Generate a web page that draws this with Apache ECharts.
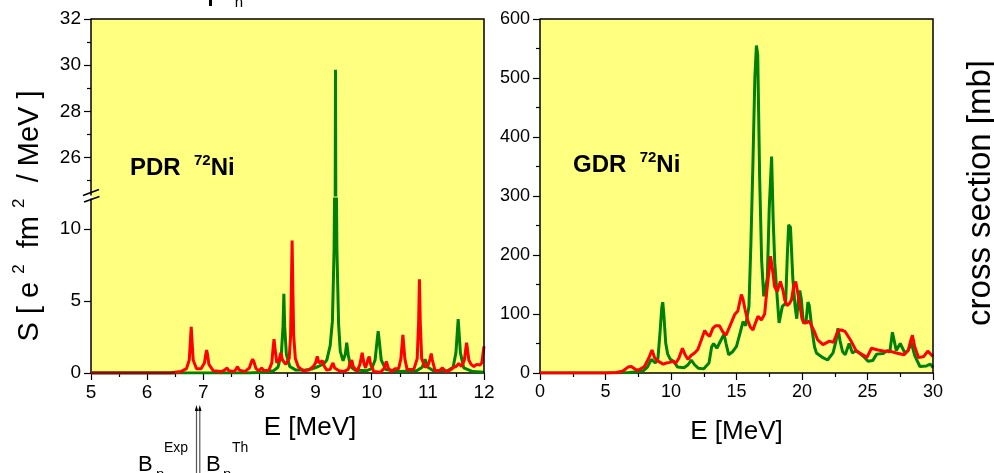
<!DOCTYPE html>
<html>
<head>
<meta charset="utf-8">
<script src="https://cdn.jsdelivr.net/npm/echarts@6/dist/echarts.min.js"></script>
<style>
  html, body { margin: 0; padding: 0; background: #fff; }
  #chart { width: 994px; height: 473px; }
</style>
</head>
<body>
<div id="chart"></div>
<script>
// PDR 72Ni: [E (MeV), S (e^2 fm^2 / MeV)]
const pdrGreen = [
  [5,0],[7.8,0],[8.1,0.05],[8.25,0.15],[8.33,0.4],[8.39,1.3],[8.42,3.2],[8.435,5.5],[8.45,3.2],[8.48,1.3],
  [8.54,0.45],[8.65,0.2],[8.8,0.2],[8.95,0.3],[9.05,0.45],[9.15,0.65],[9.2,0.9],[9.26,1.9],[9.3,3.6],[9.33,8.6],
  [9.338,12.5],[9.355,29.8],[9.372,12.5],[9.38,8.6],[9.41,3.4],[9.44,1.5],[9.49,0.85],[9.53,1.3],[9.555,2.1],[9.58,1.3],
  [9.62,0.45],[9.7,0.2],[9.9,0.15],[10.0,0.3],[10.06,0.9],[10.1,2.4],[10.115,2.9],[10.13,2.4],[10.17,0.9],[10.25,0.25],
  [10.5,0.1],[10.8,0.15],[10.9,0.4],[10.95,0.95],[11.0,0.4],[11.1,0.15],[11.35,0.15],[11.45,0.4],[11.5,1.4],[11.54,3.75],
  [11.58,1.4],[11.64,0.35],[11.8,0.1],[12,0.05]
];
const pdrRed = [
  [5,0],[6.4,0],[6.6,0.1],[6.7,0.3],[6.75,0.9],[6.77,2.2],[6.785,3.2],[6.8,2.2],[6.82,0.9],[6.88,0.3],
  [6.96,0.3],[7.02,0.7],[7.045,1.3],[7.06,1.6],[7.075,1.3],[7.1,0.6],[7.18,0.15],[7.32,0.1],[7.38,0.2],[7.42,0.35],
  [7.46,0.15],[7.55,0.1],[7.58,0.25],[7.61,0.45],[7.64,0.2],[7.74,0.1],[7.82,0.35],[7.86,0.8],[7.88,0.95],[7.9,0.8],
  [7.94,0.3],[7.99,0.15],[8.04,0.35],[8.08,0.15],[8.17,0.2],[8.22,0.7],[8.245,1.8],[8.26,2.35],[8.275,1.8],[8.31,0.7],
  [8.35,0.9],[8.38,1.4],[8.41,0.9],[8.47,0.6],[8.53,1.0],[8.555,2.6],[8.57,6.2],[8.582,9.2],[8.594,6.2],[8.61,2.6],
  [8.64,1.0],[8.69,0.45],[8.72,0.45],[8.78,0.15],[8.88,0.2],[8.96,0.45],[9.0,0.7],[9.03,1.15],[9.06,0.7],[9.09,0.6],
  [9.12,0.85],[9.15,0.5],[9.2,0.2],[9.26,0.25],[9.29,0.55],[9.31,0.7],[9.34,0.35],[9.42,0.15],[9.5,0.1],[9.58,0.25],
  [9.62,0.7],[9.645,0.9],[9.67,0.45],[9.74,0.1],[9.79,0.6],[9.83,1.4],[9.86,0.7],[9.89,0.35],[9.93,0.9],[9.955,1.15],
  [9.98,0.6],[10.04,0.1],[10.15,0.05],[10.22,0.3],[10.26,0.8],[10.3,0.3],[10.36,0.1],[10.41,0.3],[10.44,0.4],[10.48,0.3],
  [10.52,1.0],[10.555,2.65],[10.59,1.0],[10.63,0.25],[10.75,0.25],[10.81,1.0],[10.835,3.5],[10.85,6.5],[10.865,3.5],[10.89,1.0],
  [10.95,0.4],[11.0,0.5],[11.04,1.0],[11.06,1.35],[11.08,0.9],[11.13,0.15],[11.2,0.15],[11.26,0.35],[11.32,0.1],[11.4,0.2],
  [11.46,0.4],[11.5,0.45],[11.55,0.65],[11.6,0.45],[11.65,0.9],[11.69,2.1],[11.73,0.9],[11.77,0.6],[11.82,0.45],[11.87,0.6],
  [11.9,0.65],[11.93,0.55],[11.96,0.7],[12,1.85]
];

// GDR 72Ni: [E (MeV), cross section (mb)]
const gdrGreen = [
  [0,0],[5,0],[6,0.5],[6.8,1],[7.5,2],[7.9,4],[8.2,10],[8.5,23],[8.8,17],[9.0,24],
  [9.15,65],[9.3,112],[9.37,120],[9.45,100],[9.6,50],[9.75,32],[9.95,23],[10.2,20],[10.5,10],[11.0,9],
  [11.3,14],[11.55,22],[11.8,14],[12.1,8],[12.5,7],[12.9,17],[13.1,44],[13.25,50],[13.5,42],[13.8,55],
  [14.05,66],[14.2,50],[14.4,31],[14.7,36],[15.0,45],[15.3,70],[15.5,87],[15.7,80],[15.95,113],[16.1,220],
  [16.26,361],[16.4,500],[16.52,555],[16.62,540],[16.77,328],[16.92,190],[17.08,130],[17.2,132],[17.35,160],[17.5,280],
  [17.68,367],[17.8,260],[17.92,187],[18.1,130],[18.25,85],[18.5,113],[18.75,118],[18.88,200],[18.98,251],[19.12,247],
  [19.3,160],[19.47,113],[19.6,92],[19.72,125],[19.83,140],[19.95,125],[20.1,85],[20.3,85],[20.45,120],[20.55,115],
  [20.75,76],[20.95,45],[21.1,34],[21.6,26],[21.95,22],[22.37,34],[22.6,55],[22.75,76],[22.9,55],[23.1,36],
  [23.3,31],[23.6,50],[23.85,34],[24.15,38],[24.7,28],[25.04,20],[25.4,21],[25.7,32],[26.2,33],[26.5,38],
  [26.7,35],[26.9,69],[27.2,38],[27.5,50],[27.85,34],[28.1,38],[28.35,51],[28.6,30],[29.0,11],[29.5,12],
  [29.8,15],[30,9]
];
const gdrRed = [
  [0,0],[5,0],[5.8,1],[6.3,3],[6.72,10],[6.97,11],[7.35,5],[7.6,6],[7.97,11],[8.3,25],
  [8.55,39],[8.75,26],[8.95,21],[9.4,15],[9.65,17],[9.9,18],[10.15,20],[10.35,16],[10.6,25],[10.87,42],
  [11.1,30],[11.3,23],[11.55,30],[11.8,34],[12.05,40],[12.3,55],[12.57,72],[12.75,66],[12.95,62],[13.2,76],
  [13.4,80],[13.7,80],[13.95,70],[14.2,64],[14.5,80],[14.86,99],[15.1,105],[15.37,133],[15.5,125],[15.65,108],
  [15.85,90],[16.05,78],[16.26,73],[16.45,85],[16.64,96],[16.9,90],[17.15,100],[17.3,136],[17.6,198],[17.78,170],
  [17.9,147],[18.1,138],[18.35,155],[18.55,140],[18.68,124],[18.86,114],[19.05,118],[19.2,124],[19.35,145],[19.52,155],
  [19.68,135],[19.85,113],[20.0,92],[20.15,85],[20.35,85],[20.55,88],[20.7,90],[20.95,70],[21.2,56],[21.6,48],
  [22.1,54],[22.4,52],[22.75,72],[23.0,73],[23.3,70],[23.7,56],[24.15,37],[24.7,30],[24.95,26],[25.3,42],
  [25.8,39],[26.3,37],[26.7,37],[27.2,34],[27.8,31],[28.1,38],[28.3,55],[28.43,64],[28.6,45],[28.9,26],
  [29.3,28],[29.6,37],[30,28]
];

// tick values
const pdrUpperTicks = [26, 28, 30, 32];
const pdrUpperMinor = [25, 27, 29, 31];
const pdrLowerTicks = [0, 5, 10];

const FONT = '"Liberation Sans", Arial, sans-serif';
const YELLOW = '#ffff80';
const GREEN = '#008000';
const RED = '#ff0000';

const axisLine = { show: true, onZero: false, lineStyle: { color: '#000', width: 1.5 } };
const tick = { show: true, length: 7, lineStyle: { color: '#000', width: 1.2 } };
const minor = { show: true, splitNumber: 2, length: 4, lineStyle: { color: '#000', width: 1.2 } };
const label = { color: '#000', fontSize: 18, fontFamily: FONT };
const labelL = { color: '#000', fontSize: 19, fontFamily: FONT };

function line(data, color, xi, yi) {
  return {
    type: 'line', xAxisIndex: xi, yAxisIndex: yi, data: data,
    showSymbol: false, symbol: 'none', smooth: false,
    lineStyle: { color: color, width: 3 }, itemStyle: { color: color }
  };
}

const chart = echarts.init(document.getElementById('chart'));
chart.setOption({
  animation: false,
  textStyle: { fontFamily: FONT },
  grid: [
    { left: 91, top: 19, width: 393, height: 176, show: true, backgroundColor: YELLOW, borderWidth: 0 },
    { left: 91, top: 199, width: 393, height: 174, show: true, backgroundColor: YELLOW, borderWidth: 0 },
    { left: 540, top: 19, width: 393, height: 354, show: true, backgroundColor: YELLOW, borderWidth: 0 }
  ],
  xAxis: [
    { gridIndex: 0, type: 'value', min: 5, max: 12, show: false },
    {
      gridIndex: 1, type: 'value', min: 5, max: 12, interval: 1, z: 3,
      axisLine: axisLine, axisTick: tick, minorTick: minor,
      axisLabel: Object.assign({ margin: 10 }, labelL),
      splitLine: { show: false },
      name: 'E [MeV]', nameLocation: 'middle', nameGap: 42,
      nameTextStyle: { color: '#000', fontSize: 26, fontFamily: FONT, padding: [0, 0, 0, 45] }
    },
    {
      gridIndex: 2, type: 'value', min: 0, max: 30, interval: 5, z: 3,
      axisLine: axisLine, axisTick: tick, minorTick: minor,
      axisLabel: Object.assign({ margin: 10 }, label),
      splitLine: { show: false },
      name: 'E [MeV]', nameLocation: 'middle', nameGap: 46,
      nameTextStyle: { color: '#000', fontSize: 26, fontFamily: FONT }
    }
  ],
  yAxis: [
    {
      gridIndex: 0, type: 'value', min: 24.38, max: 32, position: 'left',
      axisLine: axisLine,
      axisTick: Object.assign({ customValues: pdrUpperTicks }, tick),
      axisLabel: Object.assign({ margin: 10, customValues: pdrUpperTicks }, labelL),
      splitLine: { show: false }
    },
    {
      gridIndex: 0, type: 'value', min: 24.38, max: 32, position: 'left',
      axisLine: { show: false },
      axisTick: { show: true, length: 4, customValues: pdrUpperMinor, lineStyle: { color: '#000', width: 1.2 } },
      axisLabel: { show: false },
      splitLine: { show: false }
    },
    {
      gridIndex: 1, type: 'value', min: 0, max: 12.08, position: 'left',
      axisLine: axisLine,
      axisTick: Object.assign({ customValues: pdrLowerTicks }, tick),
      axisLabel: Object.assign({ margin: 10, customValues: pdrLowerTicks }, labelL),
      splitLine: { show: false }
    },
    {
      gridIndex: 2, type: 'value', min: 0, max: 600, interval: 100, position: 'left',
      axisLine: axisLine, axisTick: tick, minorTick: minor,
      axisLabel: Object.assign({ margin: 10 }, label),
      splitLine: { show: false }
    }
  ],
  series: [
    line(pdrGreen, GREEN, 0, 0),
    line(pdrRed, RED, 0, 0),
    line(pdrGreen, GREEN, 1, 2),
    line(pdrRed, RED, 1, 2),
    line(gdrGreen, GREEN, 2, 3),
    line(gdrRed, RED, 2, 3)
  ],
  graphic: [
    // break gap in left panel
    { type: 'rect', z: 3, shape: { x: 92, y: 193.5, width: 391.5, height: 6 }, style: { fill: YELLOW } },
    { type: 'line', z: 6, shape: { x1: 83, y1: 195.5, x2: 99, y2: 189.5 }, style: { stroke: '#000', lineWidth: 1.5 } },
    { type: 'line', z: 6, shape: { x1: 84, y1: 202, x2: 99.5, y2: 196.5 }, style: { stroke: '#000', lineWidth: 1.5 } },
    // dark baseline where the curves sit on zero
    { type: 'line', z: 4, shape: { x1: 91, y1: 373, x2: 175, y2: 373 }, style: { stroke: '#7a1010', lineWidth: 2.5 } },
    // frames (top + right)
    { type: 'polyline', z: 5, shape: { points: [[91, 19], [484, 19], [484, 373]] }, style: { stroke: '#000', lineWidth: 1.5, fill: null } },
    { type: 'polyline', z: 5, shape: { points: [[540, 19], [933, 19], [933, 373]] }, style: { stroke: '#000', lineWidth: 1.5, fill: null } },
    // panel labels
    {
      type: 'text', z: 10, x: 130, y: 168,
      style: {
        text: '{b|PDR  }{s|72}{b|Ni}', verticalAlign: 'middle', fontFamily: FONT,
        rich: {
          b: { fontSize: 24, fontWeight: 'bold', fontFamily: FONT, fill: '#000', lineHeight: 30 },
          s: { fontSize: 15, fontWeight: 'bold', fontFamily: FONT, fill: '#000', verticalAlign: 'top', lineHeight: 16 }
        }
      }
    },
    {
      type: 'text', z: 10, x: 573, y: 165,
      style: {
        text: '{b|GDR  }{s|72}{b|Ni}', verticalAlign: 'middle', fontFamily: FONT,
        rich: {
          b: { fontSize: 24, fontWeight: 'bold', fontFamily: FONT, fill: '#000', lineHeight: 30 },
          s: { fontSize: 15, fontWeight: 'bold', fontFamily: FONT, fill: '#000', verticalAlign: 'top', lineHeight: 16 }
        }
      }
    },
    // axis titles
    {
      type: 'text', z: 10, x: 30, y: 216, rotation: Math.PI / 2,
      style: {
        text: '{n|S [ e }{s|2}{n|  fm }{s|2}{n|  / MeV ]}', align: 'center', verticalAlign: 'middle',
        rich: {
          n: { fontSize: 29, fontFamily: FONT, fill: '#000', lineHeight: 38 },
          s: { fontSize: 17, fontFamily: FONT, fill: '#000', verticalAlign: 'top', lineHeight: 18 }
        }
      }
    },
    {
      type: 'text', z: 10, x: 981, y: 193, rotation: Math.PI / 2,
      style: { text: 'cross section [mb]', fontSize: 33, fontFamily: FONT, fill: '#000', align: 'center', verticalAlign: 'middle' }
    },
    // neutron threshold markers
    { type: 'line', z: 10, shape: { x1: 196.5, y1: 408, x2: 196.5, y2: 473 }, style: { stroke: '#555', lineWidth: 1.2 } },
    { type: 'line', z: 10, shape: { x1: 199.8, y1: 408, x2: 199.8, y2: 473 }, style: { stroke: '#555', lineWidth: 1.2 } },
    { type: 'polygon', z: 10, shape: { points: [[194.8, 411], [196.5, 405], [198.2, 411]] }, style: { fill: '#000' } },
    { type: 'polygon', z: 10, shape: { points: [[198.1, 411], [199.8, 405], [201.5, 411]] }, style: { fill: '#000' } },
    { type: 'text', z: 10, x: 138, y: 465, style: { text: 'B', fontSize: 22, fontFamily: FONT, fill: '#000', verticalAlign: 'middle' } },
    { type: 'text', z: 10, x: 156, y: 475, style: { text: 'n', fontSize: 15, fontFamily: FONT, fill: '#000', verticalAlign: 'middle' } },
    { type: 'text', z: 10, x: 164, y: 448, style: { text: 'Exp', fontSize: 14, fontFamily: FONT, fill: '#000', verticalAlign: 'middle' } },
    { type: 'text', z: 10, x: 206, y: 465, style: { text: 'B', fontSize: 22, fontFamily: FONT, fill: '#000', verticalAlign: 'middle' } },
    { type: 'text', z: 10, x: 223, y: 475, style: { text: 'n', fontSize: 15, fontFamily: FONT, fill: '#000', verticalAlign: 'middle' } },
    { type: 'text', z: 10, x: 232, y: 448, style: { text: 'Th', fontSize: 14, fontFamily: FONT, fill: '#000', verticalAlign: 'middle' } },
    // cut-off label at the top edge
    { type: 'rect', z: 10, shape: { x: 209, y: 0, width: 3, height: 6 }, style: { fill: '#000' } },
    { type: 'text', z: 10, x: 239, y: 3, style: { text: 'n', fontSize: 15, fontFamily: FONT, fill: '#000', align: 'center', verticalAlign: 'middle' } }
  ]
});
</script>
</body>
</html>
